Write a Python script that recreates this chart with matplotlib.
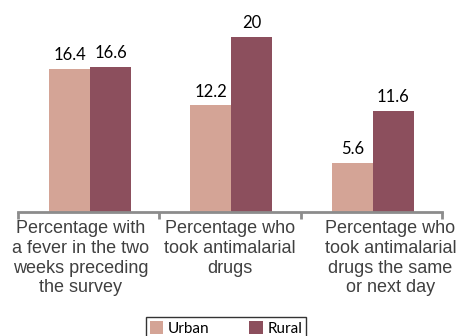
import matplotlib.pyplot as plt
import matplotlib.transforms as mtransforms
import numpy as np

categories = ["Percentage with\na fever in the two\nweeks preceding\nthe survey",
              "Percentage who\ntook antimalarial\ndrugs",
              "Percentage who\ntook antimalarial\ndrugs the same\nor next day"]
urban = [16.4, 12.2, 5.6]
rural = [16.6, 20, 11.6]
value_labels_urban = ["16.4", "12.2", "5.6"]
value_labels_rural = ["16.6", "20", "11.6"]

urban_color = "#D4A496"
rural_color = "#8C4F5D"

fig = plt.figure(figsize=(4.63, 3.36), dpi=100)
ax = fig.add_axes([0.0389, 0.369, 0.9157, 0.599])

x = np.arange(len(categories))
w = 0.29
b1 = ax.bar(x - w / 2 + 0.01, urban, w, color=urban_color, label="Urban")
b2 = ax.bar(x + w / 2 + 0.01, rural, w, color=rural_color, label="Rural")

for bars, labels in ((b1, value_labels_urban), (b2, value_labels_rural)):
    for rect, lab in zip(bars, labels):
        ax.annotate(lab, (rect.get_x() + rect.get_width() / 2, rect.get_height()),
                    xytext=(0, 4), textcoords="offset points",
                    ha="center", va="bottom", fontsize=12, family="Lato",
                    color="#000000")

ax.set_xlim(-0.5, 2.5)
ax.set_ylim(0, 23)
for s in ("left", "right", "top"):
    ax.spines[s].set_visible(False)
ax.spines["bottom"].set_color("#8C8C8C")
ax.spines["bottom"].set_linewidth(2)
ax.set_yticks([])

# boundary ticks between groups, labels at group centres
ax.set_xticks([-0.5, 0.5, 1.5, 2.5])
ax.set_xticklabels([])
ax.tick_params(axis="x", which="major", length=5, width=2, color="#8C8C8C")
ax.set_xticks(x, minor=True)
ax.set_xticklabels(categories, minor=True, fontsize=13, family="Liberation Sans",
                   color="#404040", linespacing=1.2)
ax.tick_params(axis="x", which="minor", length=0, pad=6)

shifts = [-8, 0, 19]
for lab, dx in zip(ax.get_xticklabels(minor=True), shifts):
    lab.set_transform(lab.get_transform() +
                      mtransforms.ScaledTranslation(dx / 100, 0, fig.dpi_scale_trans))

leg = fig.legend(handles=[b1, b2], labels=["Urban", "Rural"], ncol=2,
                 loc="upper center", bbox_to_anchor=(226 / 463, 1 - 317 / 336),
                 fancybox=False, frameon=True, edgecolor="#000000",
                 prop={"family": "Lato", "size": 11},
                 handlelength=0.9, handleheight=1.0, handletextpad=0.3,
                 columnspacing=2.6, borderpad=0.25, borderaxespad=0)
leg.get_frame().set_linewidth(1.0)

fig.savefig("out.png", dpi=100)
